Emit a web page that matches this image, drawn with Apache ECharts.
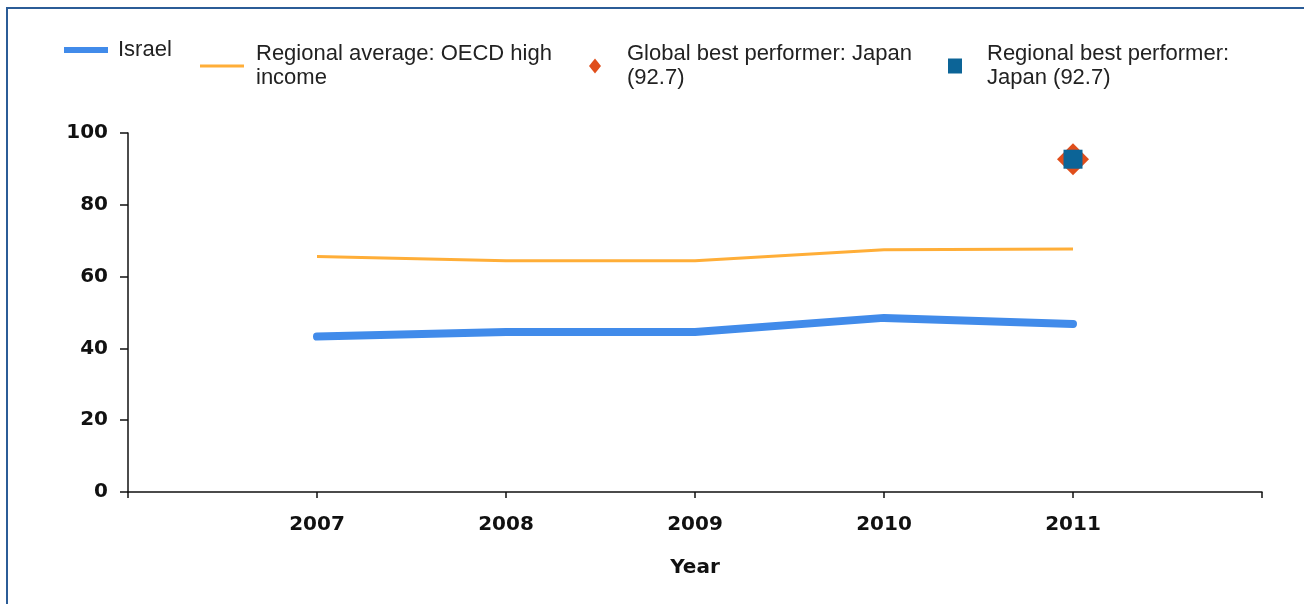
<!DOCTYPE html>
<html>
<head>
<meta charset="utf-8">
<title>Israel vs OECD high income</title>
<script src="https://cdn.jsdelivr.net/npm/echarts@6/dist/echarts.min.js"></script>
<style>
  html, body { margin: 0; padding: 0; background: #fff; }
  #chart { width: 1304px; height: 604px; }
  /* frame of the original screenshot */
  #frame { position: absolute; left: 6px; top: 7px; right: -10px; bottom: -10px;
           border-top: 2px solid #2b5c97; border-left: 2px solid #2b5c97; pointer-events: none; }
</style>
</head>
<body>
<div id="chart"></div>
<div id="frame"></div>
<script>
// data
var years = [2007, 2008, 2009, 2010, 2011];
var israel = [43.3, 44.6, 44.6, 48.5, 46.8];
var regionalAvg = [65.6, 64.4, 64.4, 67.5, 67.7];
var bestYear = 2011;
var globalBest = 92.7;
var regionalBest = 92.7;

var names = ['Israel', 'Regional average: OECD high\nincome',
             'Global best performer: Japan\n(92.7)', 'Regional best performer:\nJapan (92.7)'];

function pairs(xs, ys) {
  var out = [];
  for (var i = 0; i < xs.length; i++) out.push([xs[i], ys[i]]);
  return out;
}

function legendText(padLeft) {
  return { fontFamily: 'Liberation Sans', fontSize: 22, color: '#222', lineHeight: 24, padding: [0, 0, 0, padLeft] };
}

var chart = echarts.init(document.getElementById('chart'));
chart.setOption({
  animation: false,
  grid: { left: 128, right: 42, top: 133, bottom: 112 },
  legend: [
    { data: [names[0]], left: 64, top: 38, padding: 0, icon: 'rect', itemWidth: 44, itemHeight: 6, textStyle: legendText(5), selectedMode: false },
    { data: [names[1]], left: 200, top: 42, padding: 0, icon: 'rect', itemWidth: 44, itemHeight: 3, textStyle: legendText(7), selectedMode: false },
    { data: [names[2]], left: 589, top: 42, padding: 0, icon: 'diamond', itemWidth: 12, itemHeight: 15, textStyle: legendText(21), selectedMode: false },
    { data: [names[3]], left: 948, top: 42, padding: 0, icon: 'rect', itemWidth: 14, itemHeight: 15, textStyle: legendText(20), selectedMode: false }
  ],
  xAxis: {
    type: 'value',
    min: 2006, max: 2012, interval: 1,
    name: 'Year', nameLocation: 'middle', nameGap: 66,
    nameTextStyle: { fontFamily: 'DejaVu Sans', fontWeight: 'bold', fontSize: 20, color: '#111' },
    splitLine: { show: false },
    axisLine: { lineStyle: { color: '#111', width: 1.5 } },
    axisTick: { length: 6, lineStyle: { color: '#111', width: 1.5 } },
    axisLabel: {
      margin: 23, color: '#111', fontFamily: 'DejaVu Sans', fontWeight: 'bold', fontSize: 20,
      formatter: function (v) { return (v === 2006 || v === 2012) ? '' : String(v); }
    }
  },
  yAxis: {
    type: 'value',
    min: 0, max: 100, interval: 20,
    splitLine: { show: false },
    axisLine: { show: true, lineStyle: { color: '#111', width: 1.5 } },
    axisTick: { show: true, length: 8, lineStyle: { color: '#111', width: 1.5 } },
    axisLabel: { margin: 20, color: '#111', fontFamily: 'DejaVu Sans', fontWeight: 'bold', fontSize: 20 }
  },
  series: [
    {
      name: names[0], type: 'line', data: pairs(years, israel),
      showSymbol: false, color: '#418bea',
      lineStyle: { width: 8, cap: 'round', join: 'round' }
    },
    {
      name: names[1], type: 'line', data: pairs(years, regionalAvg),
      showSymbol: false, color: '#ffae38',
      lineStyle: { width: 3 }
    },
    {
      name: names[2], type: 'scatter', data: [[bestYear, globalBest]],
      symbol: 'diamond', symbolSize: 32, itemStyle: { color: '#e04e1b', opacity: 1 }
    },
    {
      name: names[3], type: 'scatter', data: [[bestYear, regionalBest]],
      symbol: 'rect', symbolSize: 19, itemStyle: { color: '#0c6497', opacity: 1 }
    }
  ]
});
</script>
</body>
</html>
